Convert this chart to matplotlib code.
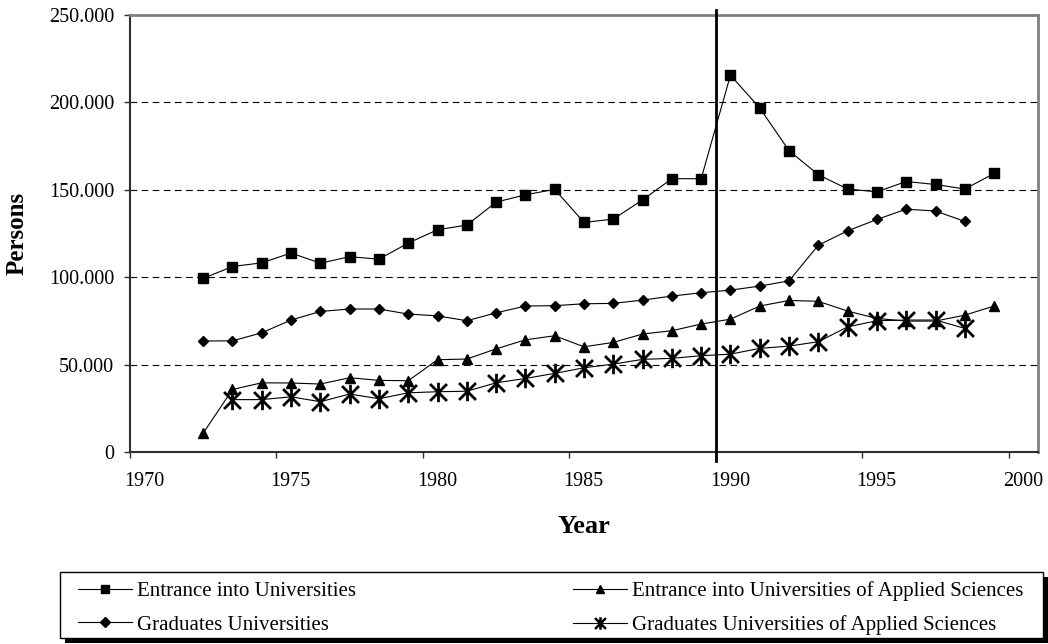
import matplotlib
matplotlib.use("Agg")
import matplotlib.pyplot as plt
from matplotlib.patches import Rectangle
from matplotlib.path import Path
from matplotlib.ticker import FuncFormatter
from matplotlib.transforms import ScaledTranslation

plt.rcParams['font.family'] = ['Liberation Serif', 'DejaVu Serif']

# academic years, values in persons
years = list(range(1972, 2000))
entrance_uni = [99300, 106100, 108200, 113800, 108000, 111700, 110300, 119500,
                127100, 129800, 142900, 147100, 150200, 131300, 133200, 144200,
                156300, 156300, 215500, 196700, 172300, 158600, 150400, 148800,
                154700, 153000, 150400, 159300]
entrance_fh = [10800, 35800, 39600, 39500, 38900, 42500, 41000, 40800,
               52800, 53200, 59000, 64200, 66500, 60200, 62700, 67500,
               69400, 73200, 76000, 83500, 86700, 86200, 80600, 76400,
               74900, 74900, 78300, 83500]
grad_uni = [63500, 63600, 68200, 75500, 80400, 81800, 81800, 78900,
            77900, 75100, 79600, 83500, 83700, 84800, 85000, 86900,
            89200, 91100, 92600, 94900, 97900, 118300, 126500, 133000,
            138900, 137800, 131900]
grad_fh = [30000, 30000, 31600, 28800, 33200, 30500, 33900,
           34500, 34800, 39600, 42100, 45000, 48200, 50300, 53000,
           53600, 55100, 56000, 59300, 60600, 63100, 71600, 75100,
           75500, 75500, 70700]

labels = ['Entrance into Universities',
          'Entrance into Universities of Applied Sciences',
          'Graduates Universities',
          'Graduates Universities of Applied Sciences']

# X with a vertical bar through it
star = Path([(-1, -1), (1, 1), (-1, 1), (1, -1), (0, -1.15), (0, 1.15)],
            [Path.MOVETO, Path.LINETO, Path.MOVETO, Path.LINETO, Path.MOVETO, Path.LINETO])


def mid(start, n):
    # values refer to the middle of each year
    return [y + 0.5 for y in years[start:start + n]]


fig = plt.figure(figsize=(10.48, 6.44), dpi=100)
ax = fig.add_axes([0.124, 0.298, 0.8665, 0.679])

l1, = ax.plot(mid(0, len(entrance_uni)), entrance_uni, color='black', lw=0.8,
              marker='s', ms=7.5, label=labels[0])
l3, = ax.plot(mid(0, len(grad_uni)), grad_uni, color='black', lw=0.8,
              marker='D', ms=5.5, label=labels[2])
l2, = ax.plot(mid(0, len(entrance_fh)), entrance_fh, color='black', lw=0.8,
              marker='^', ms=7.5, label=labels[1])
l4, = ax.plot(mid(1, len(grad_fh)), grad_fh, color='black', lw=0.8,
              marker=star, ms=14, mew=2, label=labels[3])

ax.set_xlim(1970, 2001)
ax.set_ylim(0, 250000)
ax.set_xticks(range(1970, 2001, 5))
ax.set_yticks(range(0, 250001, 50000))
ax.yaxis.set_major_formatter(FuncFormatter(lambda v, p: f"{int(v):,}".replace(',', '.')))
ax.tick_params(labelsize=14.5, direction='out', length=4.5, width=1, color='#303030')
ax.tick_params(axis='x', pad=10)
ax.tick_params(axis='y', pad=7)
shift = ScaledTranslation(14 / 100, 0, fig.dpi_scale_trans)
for lab in ax.get_xticklabels():
    lab.set_transform(lab.get_transform() + shift)

for y in range(50000, 250000, 50000):
    ax.axhline(y, color='black', lw=0.8, ls=(0, (6, 4)), zorder=0)

# reunification marker
ax.plot([1990, 1990], [-5000, 252500], color='black', lw=2, clip_on=False, zorder=5)

for side in ['top', 'right']:
    ax.spines[side].set_color('#808080')
    ax.spines[side].set_linewidth(2)
for side in ['left', 'bottom']:
    ax.spines[side].set_color('#303030')
    ax.spines[side].set_linewidth(1.5)

ax.set_xlabel('Year', fontsize=19, fontweight='bold')
ax.set_ylabel('Persons', fontsize=18, fontweight='bold')
ax.xaxis.set_label_coords(0.5, -0.143)
ax.yaxis.set_label_coords(-0.112, 0.5)

# legend box with a hard black shadow
fig.patches.append(Rectangle((0.0573 + 5 / 1048, 0.0093 - 5 / 644), 0.938, 0.1025,
                             transform=fig.transFigure, facecolor='black',
                             edgecolor='none', zorder=1))
fig.patches.append(Rectangle((0.0573, 0.0093), 0.938, 0.1025,
                             transform=fig.transFigure, facecolor='white',
                             edgecolor='black', lw=1, zorder=2))

leg = fig.legend([l1, l3, l2, l4],
                 [labels[0], labels[2], labels[1], labels[3]],
                 loc='upper left', bbox_to_anchor=(78 / 1048, 0.097),
                 ncol=2, fontsize=15, frameon=False,
                 handlelength=2.6, handletextpad=0.25, labelspacing=0.66,
                 columnspacing=10.4, borderpad=0, borderaxespad=0)
leg.set_zorder(3)
for h in leg.legend_handles:
    h.set_markersize(h.get_markersize() * 0.85)
leg.legend_handles[3].set_markersize(9)
leg.legend_handles[3].set_markeredgewidth(1.8)

fig.savefig('out.png', dpi=100)
